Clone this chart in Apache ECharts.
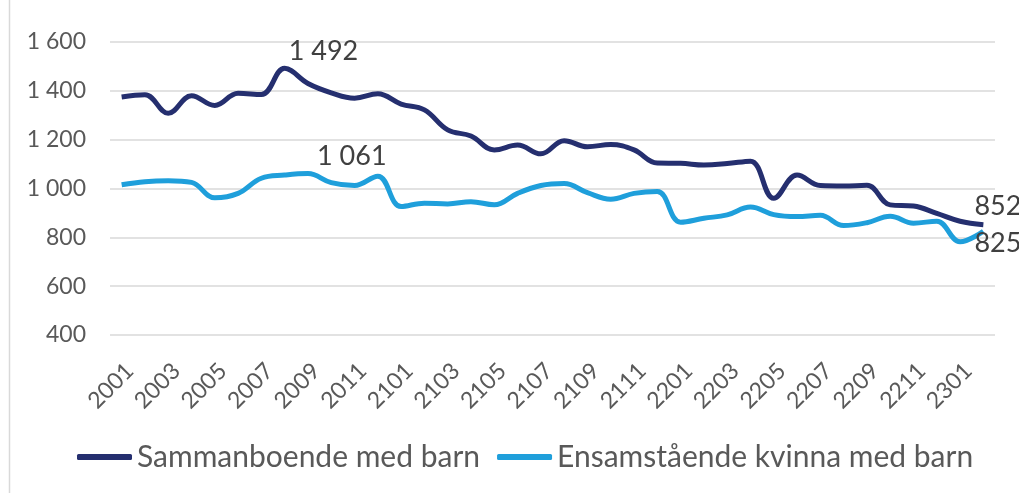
<!DOCTYPE html>
<html>
<head>
<meta charset="utf-8">
<script src="https://cdn.jsdelivr.net/npm/echarts@6/dist/echarts.min.js"></script>
<style>html,body{margin:0;padding:0;background:#fff}#c{width:1019px;height:493px}</style>
</head>
<body>
<div id="c"></div>
<script>
var categories = ['2001','2002','2003','2004','2005','2006','2007','2008','2009','2010','2011','2012',
  '2101','2102','2103','2104','2105','2106','2107','2108','2109','2110','2111','2112',
  '2201','2202','2203','2204','2205','2206','2207','2208','2209','2210','2211','2212',
  '2301','2302'];
var sammanboende = [1375,1384,1308,1380,1340,1390,1385,1492,1430,1392,1370,1388,
  1346,1322,1240,1215,1158,1178,1142,1196,1171,1180,1158,1104,
  1103,1096,1102,1112,960,1055,1012,1010,1013,933,928,898,
  866,852];
var ensamstaende = [1015,1028,1032,1025,962,980,1042,1055,1061,1024,1012,1050,
  926,940,937,946,933,980,1012,1020,983,956,980,988,
  862,878,892,924,893,885,890,848,860,886,858,866,
  782,825];
var seriesNames = ['Sammanboende med barn','Ensamstående kvinna med barn'];
var yTicks = {min: 400, max: 1600, interval: 200};

function fmt(v){ return String(v).replace(/\B(?=(\d{3})+(?!\d))/g, ' '); }

var FONT = 'Lato';
var labelBase = {show: true, fontFamily: FONT, fontSize: 27, color: '#404040', formatter: function(p){return fmt(p.value);}};

function build(values, labels){
  return values.map(function(v, i){
    if (labels[i]) return {value: v, label: Object.assign({}, labelBase, labels[i])};
    return v;
  });
}

var darkData = build(sammanboende, {7: {position: 'right', distance: 4, offset: [0, -17]}, 37: {position: 'right', distance: -9, offset: [0, -18]}});
var lightData = build(ensamstaende, {8: {position: 'right', distance: 9, offset: [0, -17]}, 37: {position: 'right', distance: -9, offset: [0, 12]}});

var chart = echarts.init(document.getElementById('c'));
chart.setOption({
  animation: false,
  textStyle: {fontFamily: FONT},
  graphic: [{type: 'line', shape: {x1: 9.5, y1: 0, x2: 9.5, y2: 493}, style: {stroke: '#d9d9d9', lineWidth: 1.5}}],
  grid: {left: 110, right: 24, top: 42, bottom: 158},
  legend: {
    top: 437, left: 72,
    itemWidth: 55, itemHeight: 6, itemGap: 17,
    icon: 'roundRect',
    textStyle: {fontFamily: FONT, fontSize: 30, color: '#595959'},
    data: seriesNames
  },
  xAxis: {
    type: 'category', data: categories, boundaryGap: true,
    axisLine: {show: false}, axisTick: {show: false},
    axisLabel: {interval: 1, rotate: 45, fontFamily: FONT, fontSize: 23, color: '#595959', margin: 24, verticalAlign: 'top'}
  },
  yAxis: {
    type: 'value', min: yTicks.min, max: yTicks.max, interval: yTicks.interval,
    axisLine: {show: false}, axisTick: {show: false},
    splitLine: {lineStyle: {color: '#d9d9d9', width: 1.5}},
    axisLabel: {fontFamily: FONT, fontSize: 23, color: '#595959', margin: 24, formatter: function(v){return fmt(v);}}
  },
  series: [
    {name: seriesNames[0], type: 'line', data: darkData, smooth: 0.4, showSymbol: true, symbol: 'circle', symbolSize: 0.1,
     label: {show: false}, lineStyle: {color: '#252f6f', width: 5}, itemStyle: {color: '#252f6f'}},
    {name: seriesNames[1], type: 'line', data: lightData, smooth: 0.4, showSymbol: true, symbol: 'circle', symbolSize: 0.1,
     label: {show: false}, lineStyle: {color: '#1f9fdb', width: 5}, itemStyle: {color: '#1f9fdb'}}
  ]
});
</script>
</body>
</html>
